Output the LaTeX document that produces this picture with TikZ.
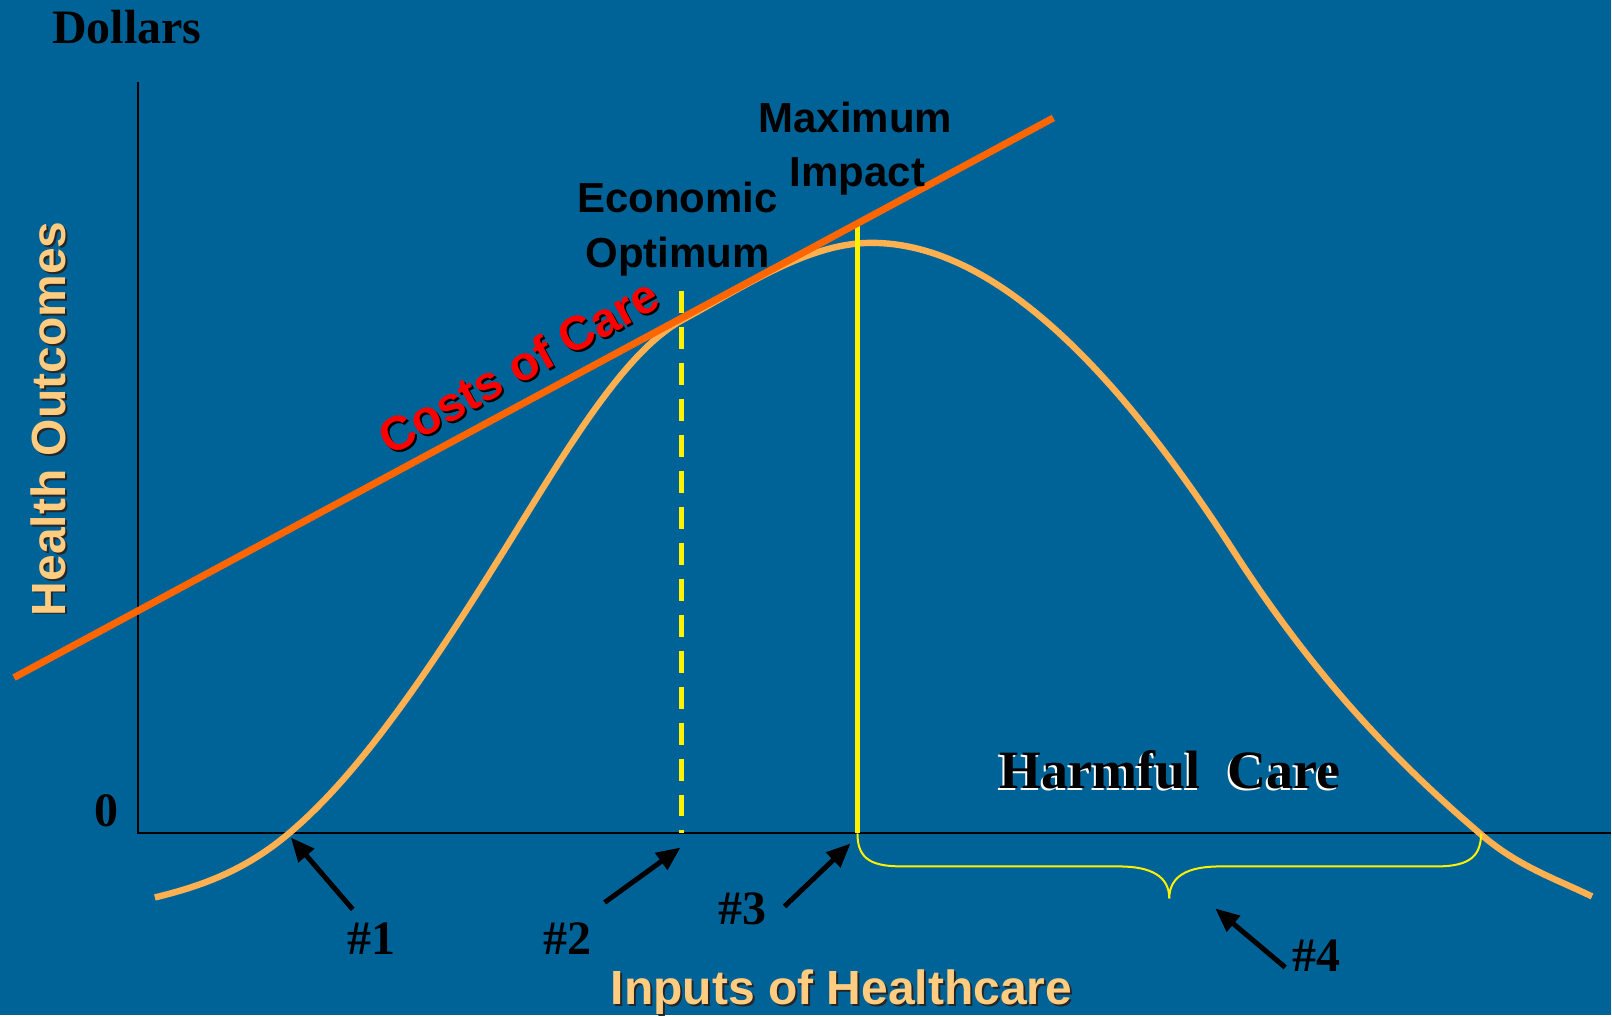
\documentclass[tikz,border=0pt]{standalone}
\usepackage{fontspec}
\setmainfont{Liberation Serif}
\setsansfont{Liberation Sans}
\usetikzlibrary{arrows.meta}
\definecolor{slide}{RGB}{0,99,151}
\definecolor{outcome}{RGB}{255,176,80}
\definecolor{cost}{RGB}{255,102,0}
\definecolor{axistext}{RGB}{255,204,128}
\tikzset{
  timeslabel/.style={font=\rmfamily\bfseries\fontsize{24}{24}\selectfont, inner sep=0pt, anchor=base},
  ariallabel/.style={font=\sffamily\bfseries\fontsize{21}{21}\selectfont, inner sep=0pt, anchor=base},
  axisname/.style={ariallabel, font=\sffamily\bfseries\fontsize{24}{24}\selectfont},
  pointer/.style={-{Triangle[length=12pt,width=10pt]}, line width=2.5pt},
}
\begin{document}
\begin{tikzpicture}[x=0.5pt,y=-0.5pt]
  \def\healthcurve{(155,898) .. controls (200,887) and (244,872) .. (289,834)
    .. controls (364,771) and (438,658) .. (513,537)
    .. controls (570,445) and (626,351) .. (683,320)
    .. controls (746,286) and (809,243) .. (872,243)
    .. controls (993,243) and (1115,366) .. (1236,554)
    .. controls (1318,681) and (1400,765) .. (1482,835)
    .. controls (1519,867) and (1556,879) .. (1593,897)}
      \fill[slide] (0,0) rectangle (1612,1016);
      % axes
      \coordinate (ytop) at (138,82);
      \coordinate (origin) at (138,834);
      \coordinate (xend) at (1612,834);
      \draw[line width=1pt] (ytop) -- (origin) -- (xend);
      \draw[outcome, line width=3.2pt] \healthcurve;
      % optimum and maximum
      \coordinate (opttop) at (682,291);
      \coordinate (optfoot) at (682,834);
      \coordinate (maxtop) at (858,226);
      \coordinate (maxfoot) at (858,834);
      \draw[yellow, line width=2.5pt, dash pattern=on 11pt off 7pt] (opttop) -- (optfoot);
      \draw[yellow, line width=2.5pt] (maxtop) -- (maxfoot);
      \coordinate (harmend) at (1482,834);
      \coordinate (bracetip) at (1170,899);
      \draw[yellow, line width=1pt] (maxfoot) .. controls (858,862) and (875,867) .. (905,867) -- (1120,867)
        .. controls (1152,867) and (1170,877) .. (bracetip)
        .. controls (1170,877) and (1188,867) .. (1220,867) -- (1436,867)
        .. controls (1466,867) and (1482,860) .. (harmend);
      % costs
      \coordinate (costlow) at (14,678);
      \coordinate (costhigh) at (1054,118);
      \draw[cost, line width=3.5pt] (costlow) -- (costhigh);
      \node[axisname, rotate=29, text=black] (costs-s) at (529,383) {Costs of Care};
      \node[axisname, rotate=29, text=red] (costs) at (527,381) {Costs of Care};
      % labels
      \node[timeslabel] (dollars) at (127,44) {Dollars};
      \node[timeslabel] (zero) at (107,827) {0};
      \node[axisname, rotate=90, text=black!85] (health-s) at (68,421) {Health Outcomes};
      \node[axisname, rotate=90, text=axistext] (health) at (66,419) {Health Outcomes};
      \node[axisname, text=black!85] (inputs-s) at (844,1007) {Inputs of Healthcare};
      \node[axisname, text=axistext] (inputs) at (842,1005) {Inputs of Healthcare};
      \node[ariallabel] (econ) at (678,213) {Economic};
      \node[ariallabel] (optimum) at (678,268) {Optimum};
      \node[ariallabel] (maximum) at (856,133) {Maximum};
      \node[ariallabel] (impact) at (858,187) {Impact};
      \node[timeslabel, font=\rmfamily\bfseries\fontsize{27}{27}\selectfont, text=white] (harm-s) at (1169,791) {Harmful\ \ Care};
      \node[timeslabel, font=\rmfamily\bfseries\fontsize{27}{27}\selectfont] (harm) at (1171,789) {Harmful\ \ Care};
      % numbered arrows
      \node[timeslabel] (n1) at (372,955) {\#1};
      \node[timeslabel] (n2) at (568,955) {\#2};
      \node[timeslabel] (n3) at (743,925) {\#3};
      \node[timeslabel] (n4) at (1317,972) {\#4};
      \coordinate (t1) at (353,910); \coordinate (h1) at (291,838);
      \coordinate (t2) at (605,903); \coordinate (h2) at (681,848);
      \coordinate (t3) at (785,907); \coordinate (h3) at (851,844);
      \coordinate (t4) at (1286,968); \coordinate (h4) at (1216,909);
      \draw[pointer] (t1) -- (h1);
      \draw[pointer] (t2) -- (h2);
      \draw[pointer] (t3) -- (h3);
      \draw[pointer] (t4) -- (h4);
  \end{tikzpicture}
\end{document}
